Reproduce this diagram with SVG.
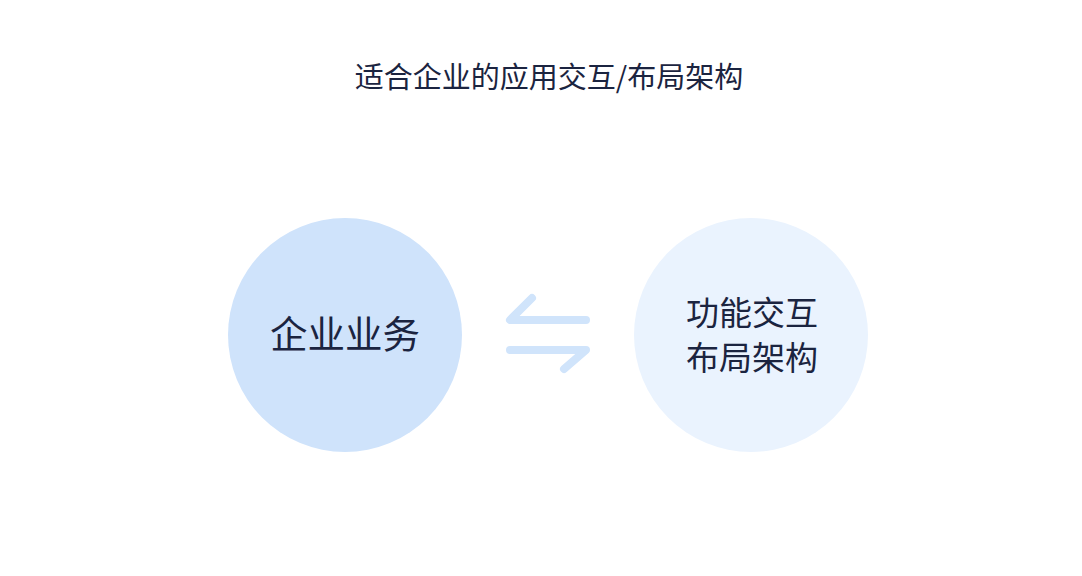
<svg xmlns="http://www.w3.org/2000/svg" width="1082" height="576" viewBox="0 0 1082 576">
<style>
text{font-family:"Noto Sans CJK SC","Noto Sans",sans-serif;fill:#1b2440;text-anchor:middle}
.arr{fill:none;stroke:#d0e4fb;stroke-width:8;stroke-linecap:round;stroke-linejoin:round}
</style>
<rect width="1082" height="576" fill="#ffffff"/>
<g id="title"><text x="549" y="88" font-size="29">适合企业的应用交互/布局架构</text></g>
<g id="node-business">
<circle cx="345" cy="335" r="117" fill="#cfe3fb"/>
<text x="345" y="348" font-size="37.5">企业业务</text>
</g>
<g id="node-function">
<circle cx="751" cy="335" r="117" fill="#eaf3fe"/>
<text x="752" y="325" font-size="33">功能交互</text>
<text x="752" y="370" font-size="33">布局架构</text>
</g>
<g id="connectors">
<path class="arr" d="M532,298 L510,320 L586,320"/>
<path class="arr" d="M510,350 L586,350 L564,369"/>
</g>
</svg>
